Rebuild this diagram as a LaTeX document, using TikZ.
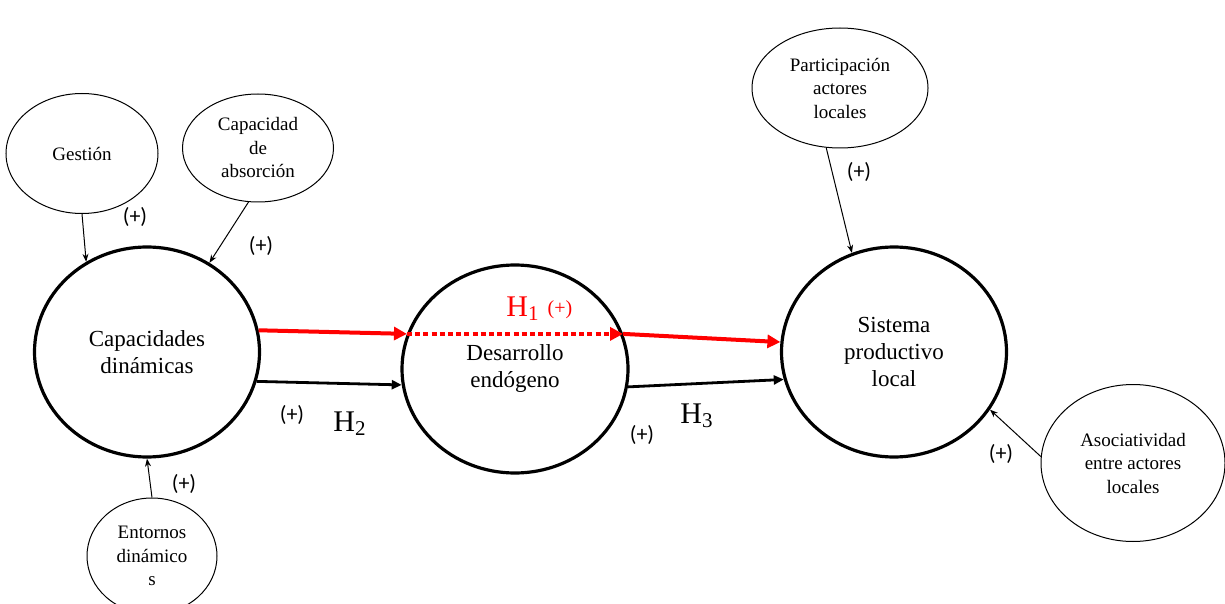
\documentclass[tikz,border=0pt]{standalone}
\usepackage{fontspec}
\setmainfont{Liberation Serif}
\newfontfamily\signfont{Carlito}
\usetikzlibrary{shapes.geometric,arrows.meta}

\begin{document}
\begin{tikzpicture}[
        x=0.5pt, y=-0.5pt,
        bigcirc/.style={ellipse, draw, line width=1.6pt, inner sep=0pt, align=center, font=\fontsize{11.5}{13.5}\selectfont},
        factor/.style={ellipse, draw, line width=0.5pt, inner sep=0pt, align=center, font=\fontsize{9.5}{11.75}\selectfont},
        sign/.style={font=\signfont\fontsize{11}{13}\selectfont},
        hyplabel/.style={font=\fontsize{15}{17}\selectfont},
        infl/.style={-{Stealth[length=4pt, width=3pt]}, line width=0.5pt},
        hyp/.style={-{Triangle[length=5pt, width=4.5pt]}, line width=1.4pt},
        redhyp/.style={-{Triangle[length=6.5pt, width=6.5pt]}, line width=2pt, red}
    ]
    \useasboundingbox (0,0) rectangle (1225,604);

% Main variables
        \node[bigcirc, minimum width=112.5pt, minimum height=105pt] (capdin) at (147,352) {Capacidades\\dinámicas};
        \node[bigcirc, minimum width=113pt, minimum height=104pt] (desarrollo) at (515,369) {Desarrollo\\endógeno};
        \node[bigcirc, minimum width=112.5pt, minimum height=105pt] (sistema) at (894,352) {Sistema\\productivo\\local};

% Factors
        \node[factor, minimum width=76pt, minimum height=60pt] (gestion) at (82,153.5) {Gestión};
        \node[factor, minimum width=75.5pt, minimum height=54pt] (absorcion) at (258,148) {Capacidad\\de\\absorción};
        \node[factor, minimum width=65pt, minimum height=58pt] (entornos) at (152,556) {Entornos\\dinámico\\s};
        \node[factor, minimum width=88pt, minimum height=60pt] (particip) at (840,88) {Participación\\actores\\locales};
        \node[factor, minimum width=92pt, minimum height=78.5pt] (asoc) at (1133,463) {Asociatividad\\entre actores\\locales};

% Influences
        \draw[infl] (gestion.south) -- (capdin.124);
        \draw[infl] (absorcion.260) -- (capdin.55);
        \draw[infl] (entornos.north) -- (capdin.south);
        \draw[infl] (particip.257) -- (sistema.113);
        \draw[infl] (asoc.176) -- (sistema.329);

% Hypotheses
        \draw[redhyp] (capdin.11) -- (desarrollo.162);
        \draw[redhyp, dash pattern=on 2.5pt off 1.6pt] (desarrollo.162) -- (desarrollo.18);
        \draw[redhyp] (desarrollo.18) -- (sistema.175);
        \draw[hyp] (capdin.345) -- (desarrollo.188);
        \draw[hyp] (desarrollo.351) -- (sistema.194);

% Labels
        \node[sign] (sgest) at (135,217) {(+)};
        \node[sign] (sabs) at (261,246) {(+)};
        \node[sign] (sent) at (184,484) {(+)};
        \node[sign] (spart) at (859,172) {(+)};
        \node[sign] (sasoc) at (1001,454) {(+)};
        \node[sign] (shtwo) at (292,415) {(+)};
        \node[sign] (shthree) at (642,435) {(+)};
        \node[hyplabel] (htwo) at (350,424) {H\textsubscript{2}};
        \node[hyplabel] (hthree) at (697,416) {H\textsubscript{3}};
        \node[hyplabel, red] (hone) at (523,309) {H\textsubscript{1}};
        \node[red, font=\fontsize{10}{12}\selectfont] (shone) at (560,310) {(+)};
    \end{tikzpicture}
\end{document}
